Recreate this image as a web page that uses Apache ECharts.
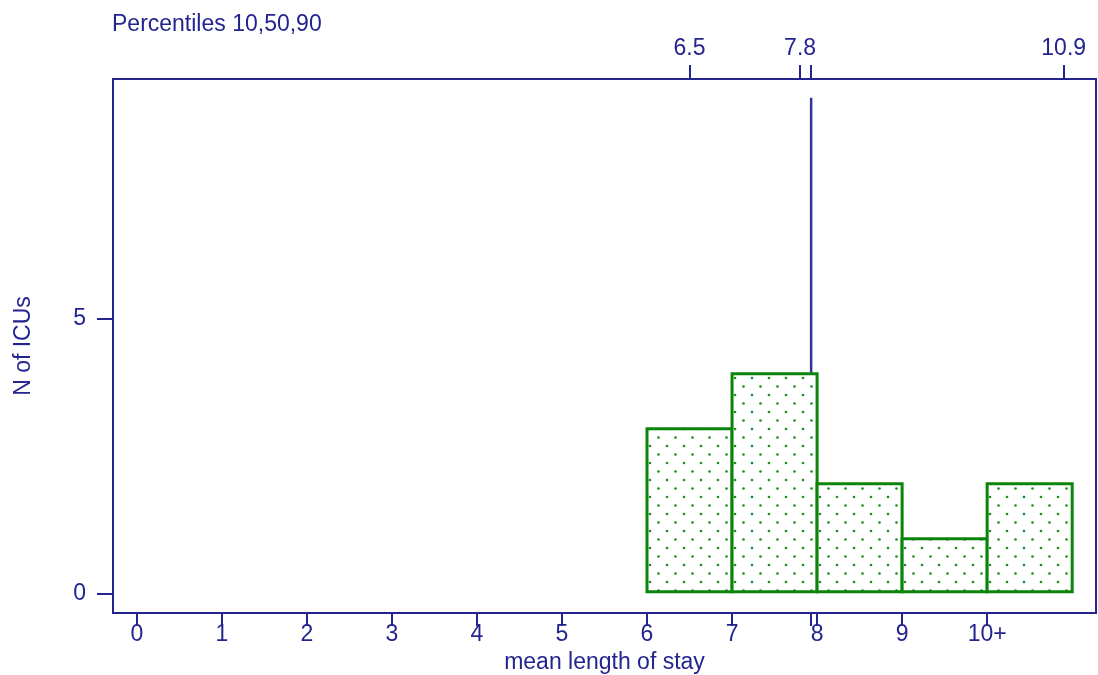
<!DOCTYPE html>
<html>
<head>
<meta charset="utf-8">
<script src="https://cdn.jsdelivr.net/npm/echarts@6/dist/echarts.min.js"></script>
<style>
html,body{margin:0;padding:0;background:#fff;}
#chart{width:1098px;height:675px;}
</style>
</head>
<body>
<div id="chart"></div>
<script>
// ---- data ----
const binStarts = [6, 7, 8, 9, 10];
const counts = [3, 4, 2, 1, 2];
const binWidth = 1;
const xTickValues = [0, 1, 2, 3, 4, 5, 6, 7, 8, 9, 10];
const xTickLabels = ['0', '1', '2', '3', '4', '5', '6', '7', '8', '9', '10+'];
const percentileValues = [6.5, 7.8, 10.9];
const percentileLabels = ['6.5', '7.8', '10.9'];
const markerX = 7.93;
const markerRange = [4, 9.02];
const yTickValues = [0, 5];
const titleText = 'Percentiles 10,50,90';
const xName = 'mean length of stay';
const yName = 'N of ICUs';

// ---- styles ----
const NAVY = '#24248f';
const GREEN = '#0a850a';
const FONT = 'Liberation Sans';
const FS = 23;

function makePattern() {
  const c = document.createElement('canvas');
  c.width = 17; c.height = 17;
  const ctx = c.getContext('2d');
  ctx.fillStyle = '#ffffff';
  ctx.fillRect(0, 0, 17, 17);
  ctx.fillStyle = '#1f8f1f';
  [[4, 4], [12.5, 12.5]].forEach(p => {
    ctx.beginPath(); ctx.arc(p[0], p[1], 1.35, 0, Math.PI * 2); ctx.fill();
  });
  return c;
}
const pattern = makePattern();

const chart = echarts.init(document.getElementById('chart'), null, {renderer: 'canvas'});
const X_MIN = -0.28, X_MAX = 11.28, Y_MIN = -0.35, Y_MAX = 9.36;

chart.setOption({
  animation: false,
  backgroundColor: '#ffffff',
  textStyle: {fontFamily: FONT},
  title: {
    text: titleText, left: 112, top: 13, padding: 0,
    textStyle: {fontFamily: FONT, fontSize: FS, fontWeight: 'normal', color: NAVY}
  },
  grid: {
    left: 113, top: 79, right: 2, bottom: 62,
    containLabel: false, outerBoundsMode: 'none',
    show: true, borderColor: NAVY, borderWidth: 2, backgroundColor: '#fff'
  },
  xAxis: [{
    type: 'value', position: 'bottom', min: X_MIN, max: X_MAX,
    name: xName, nameLocation: 'middle', nameGap: 34,
    nameTextStyle: {fontFamily: FONT, fontSize: FS, color: NAVY},
    splitLine: {show: false},
    axisLine: {show: true, onZero: false, lineStyle: {color: NAVY, width: 2}},
    axisTick: {show: true, length: 13, lineStyle: {color: NAVY, width: 2},
      customValues: xTickValues.concat([markerX])},
    axisLabel: {show: true, margin: 10, fontFamily: FONT, fontSize: FS, color: NAVY,
      customValues: xTickValues,
      formatter: v => xTickLabels[xTickValues.indexOf(v)]}
  }, {
    type: 'value', position: 'top', min: X_MIN, max: X_MAX,
    splitLine: {show: false},
    axisLine: {show: true, onZero: false, lineStyle: {color: NAVY, width: 2}},
    axisTick: {show: true, length: 14, lineStyle: {color: NAVY, width: 2},
      customValues: percentileValues.concat([markerX])},
    axisLabel: {show: true, margin: 19, fontFamily: FONT, fontSize: FS, color: NAVY,
      customValues: percentileValues,
      formatter: v => percentileLabels[percentileValues.indexOf(v)]}
  }],
  yAxis: {
    type: 'value', min: Y_MIN, max: Y_MAX,
    name: yName, nameLocation: 'middle', nameGap: 78,
    nameTextStyle: {fontFamily: FONT, fontSize: FS, color: NAVY},
    splitLine: {show: false},
    axisLine: {show: true, onZero: false, lineStyle: {color: NAVY, width: 2}},
    axisTick: {show: true, length: 16, lineStyle: {color: NAVY, width: 2},
      customValues: yTickValues},
    axisLabel: {show: true, margin: 27, fontFamily: FONT, fontSize: FS, color: NAVY,
      customValues: yTickValues}
  },
  series: [{
    type: 'custom',
    xAxisIndex: 0, yAxisIndex: 0,
    data: binStarts.map((s, i) => [s, s + binWidth, counts[i]]),
    renderItem: function (params, api) {
      const p0 = api.coord([api.value(0), 0]);
      const p1 = api.coord([api.value(1), api.value(2)]);
      return {
        type: 'rect',
        shape: {x: p0[0], y: p1[1], width: p1[0] - p0[0], height: p0[1] - p1[1] - 2},
        style: {
          fill: {image: pattern, repeat: 'repeat'},
          stroke: GREEN, lineWidth: 3
        }
      };
    },
    z: 3
  }, {
    type: 'custom',
    xAxisIndex: 0, yAxisIndex: 0,
    data: [[markerX, markerRange[0], markerRange[1]]],
    renderItem: function (params, api) {
      const a = api.coord([api.value(0), api.value(1)]);
      const b = api.coord([api.value(0), api.value(2)]);
      return {
        type: 'line',
        shape: {x1: a[0], y1: a[1], x2: b[0], y2: b[1]},
        style: {stroke: '#33339a', lineWidth: 2.5}
      };
    },
    z: 2
  }]
});
</script>
</body>
</html>
